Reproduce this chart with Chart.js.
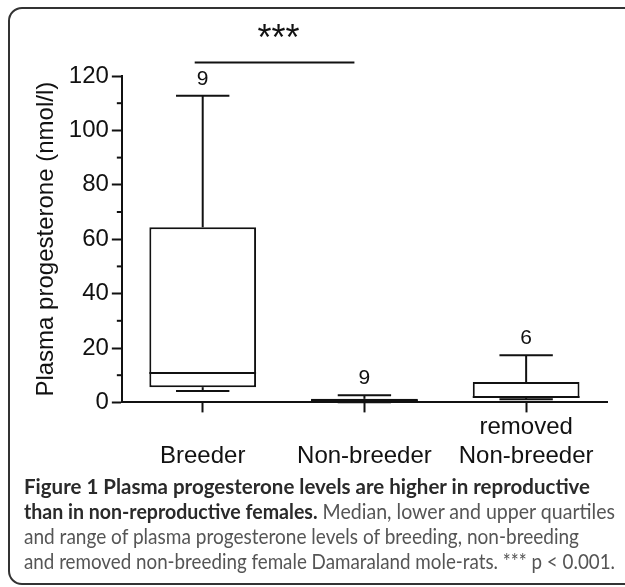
<!DOCTYPE html>
<html>
<head>
<meta charset="utf-8">
<script src="https://cdn.jsdelivr.net/npm/chart.js@4.4.1/dist/chart.umd.min.js"></script>
<style>
  html, body { margin: 0; padding: 0; background: #fff; overflow: hidden; }
  #frame { position: absolute; left: 8px; top: 7px; width: 1000px; height: 574px;
           border: 2px solid #333; border-radius: 14px; }
  #chart { position: absolute; left: 0; top: 0; }
  .cap { position: absolute; left: 24px; top: 473px; font-family: Lato, "Open Sans", sans-serif;
         font-size: 21px; line-height: 25px; color: #555; }
  .cap div { white-space: nowrap; transform-origin: 0 0; width: max-content; }
  .cap b { color: #2a2a2a; font-weight: 700; }
</style>
</head>
<body>
<div id="frame"></div>
<canvas id="chart" width="625" height="500"></canvas>
<div class="cap">
  <div><b>Figure 1 Plasma progesterone levels are higher in reproductive</b></div>
  <div><b>than in non-reproductive females.</b> Median, lower and upper quartiles</div>
  <div>and range of plasma progesterone levels of breeding, non-breeding</div>
  <div>and removed non-breeding female Damaraland mole-rats. *** p &lt; 0.001.</div>
</div>
<script>
// values (nmol/l)
const categories = ["Breeder", "Non-breeder", ["removed", "Non-breeder"]];
const mins = [4.2, 0.1, 1.2];
const q1s = [5.6, 0.3, 1.6];
const medians = [10.8, 0.7, 2.0];
const q3s = [64.4, 1.3, 7.5];
const maxs = [112.7, 2.6, 17.3];
const nLabels = ["9", "9", "6"];
const minorTicks = [10, 30, 50, 70, 90, 110];
const sigPair = [0, 1];
const sigLevel = 125;
const sigText = "***";

const ink = "#111";
const axisFont = "Liberation Sans, Arial, sans-serif";

// whiskers, medians, n labels, minor ticks and the significance bar
const boxPlugin = {
  id: "boxExtras",
  afterDatasetsDraw(chart) {
    const { ctx, scales: { x, y } } = chart;
    const meta = chart.getDatasetMeta(0);
    ctx.save();
    ctx.strokeStyle = ink;
    ctx.fillStyle = ink;
    ctx.lineWidth = 2;
    const line = (x1, y1, x2, y2) => {
      ctx.beginPath(); ctx.moveTo(x1, y1); ctx.lineTo(x2, y2); ctx.stroke();
    };
    meta.data.forEach((bar, i) => {
      const cx = x.getPixelForValue(i);
      const half = bar.width / 2;
      const cap = half / 2;
      // whiskers
      line(cx, y.getPixelForValue(q3s[i]), cx, y.getPixelForValue(maxs[i]));
      line(cx, y.getPixelForValue(q1s[i]), cx, y.getPixelForValue(mins[i]));
      line(cx - cap, y.getPixelForValue(maxs[i]), cx + cap, y.getPixelForValue(maxs[i]));
      line(cx - cap, y.getPixelForValue(mins[i]), cx + cap, y.getPixelForValue(mins[i]));
      // median
      line(cx - half, y.getPixelForValue(medians[i]), cx + half, y.getPixelForValue(medians[i]));
      // n
      ctx.font = "21px " + axisFont;
      ctx.textAlign = "center";
      ctx.textBaseline = "alphabetic";
      ctx.fillText(nLabels[i], cx, y.getPixelForValue(maxs[i]) - 11);
    });
    // minor ticks on y
    minorTicks.forEach(v => {
      const py = y.getPixelForValue(v);
      line(x.left - 5, py, x.left, py);
    });
    // significance bar
    const sx1 = x.getPixelForValue(sigPair[0]) - 8;
    const sx2 = x.getPixelForValue(sigPair[1]) - 10;
    const sy = y.getPixelForValue(sigLevel);
    line(sx1, sy, sx2, sy);
    ctx.font = "36px " + axisFont;
    ctx.textAlign = "center";
    ctx.fillText(sigText, (sx1 + sx2) / 2 + 4, sy - 12);
    ctx.restore();
  }
};

new Chart(document.getElementById("chart").getContext("2d"), {
  type: "bar",
  data: {
    labels: categories,
    datasets: [{
      data: q1s.map((q, i) => [q, q3s[i]]),
      backgroundColor: "#fff",
      borderColor: ink,
      borderWidth: 2,
      borderSkipped: false,
      categoryPercentage: 1,
      barPercentage: 0.66
    }]
  },
  options: {
    responsive: false,
    animation: false,
    layout: { padding: { top: 76, right: 18, left: 32, bottom: 0 } },
    plugins: { legend: { display: false }, tooltip: { enabled: false } },
    scales: {
      x: {
        grid: { drawOnChartArea: false, offset: false, tickLength: 10, tickWidth: 2, tickColor: ink },
        border: { color: ink, width: 2 },
        ticks: { font: { family: axisFont, size: 24 }, color: ink, padding: 15,
                 maxRotation: 0, autoSkip: false, crossAlign: "far" }
      },
      y: {
        min: 0, max: 120,
        grid: { drawOnChartArea: false, tickLength: 10, tickWidth: 2, tickColor: ink },
        border: { color: ink, width: 2 },
        ticks: { stepSize: 20, font: { family: axisFont, size: 24 }, color: ink, padding: 3 },
        title: { display: true, text: "Plasma progesterone (nmol/l)", color: ink,
                 font: { family: axisFont, size: 24 }, padding: { top: 0, bottom: 5 } }
      }
    }
  },
  plugins: [boxPlugin]
});

// squeeze caption lines to the widths of the printed caption
const capWidths = [566, 591, 555, 591];
document.querySelectorAll(".cap div").forEach((d, i) => {
  const w = d.getBoundingClientRect().width;
  d.style.transform = "scaleX(" + (capWidths[i] / w) + ")";
});
</script>
</body>
</html>
